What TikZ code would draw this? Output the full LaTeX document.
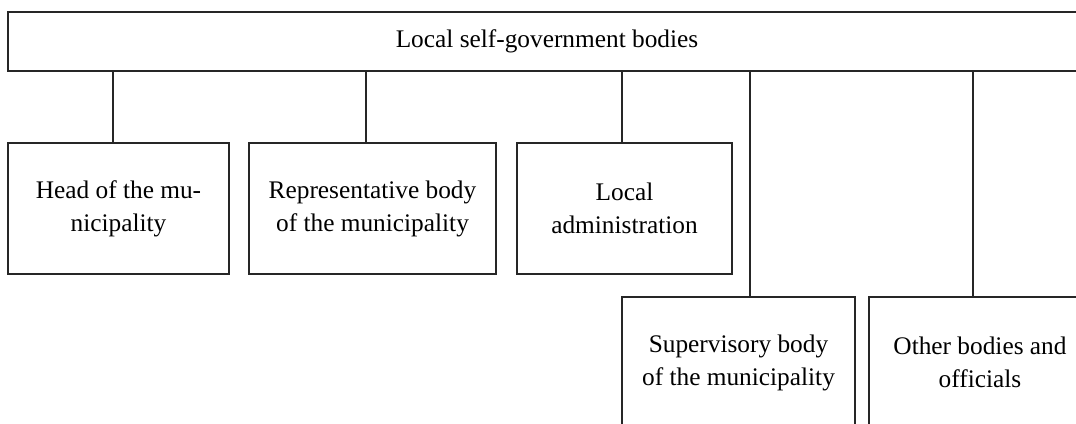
\documentclass[tikz,border=0pt]{standalone}
\usepackage{fontspec}
\setmainfont{Liberation Serif}
\usepackage{tikz}
\usetikzlibrary{positioning}

\tikzset{
  body/.style={draw=black!85,line width=1.1pt,align=center,inner sep=0pt,
    font=\fontsize{19}{24.75}\selectfont},
  link/.style={draw=black!85,line width=0.8pt}
}

\begin{document}
\begin{tikzpicture}[x=0.75pt,y=-0.75pt]
\useasboundingbox (0,0) rectangle (1076,424);
% top level
\node[body,minimum width=808.5pt,minimum height=44.25pt] (top) at (547,41.5) {Local self-government bodies};
% first row
\node[body,minimum width=165.75pt,minimum height=98.25pt] (head) at (118.5,208.5) {Head of the mu-\\nicipality};
\node[body,minimum width=185.25pt,minimum height=98.25pt] (rep) at (372.5,208.5) {Representative body\\of the municipality};
\node[body,minimum width=161.25pt,minimum height=98.25pt] (admin) at (624.5,208.5) {Local\\administration};
% second row
\node[body,minimum width=174.75pt,minimum height=98.25pt] (sup) at (738.5,362.5) {Supervisory body\\of the municipality};
\node[body,minimum width=166.5pt,minimum height=98.25pt] (other) at (980,362.5) {Other bodies and\\officials};
% connectors
\coordinate (c1) at (113,143);
\coordinate (c2) at (366,143);
\coordinate (c3) at (622,143);
\coordinate (c4) at (750,297);
\coordinate (c5) at (973,297);
\foreach \c in {c1,c2,c3,c4,c5}
  \draw[link] (\c |- top.south) -- (\c);
\end{tikzpicture}
\end{document}
